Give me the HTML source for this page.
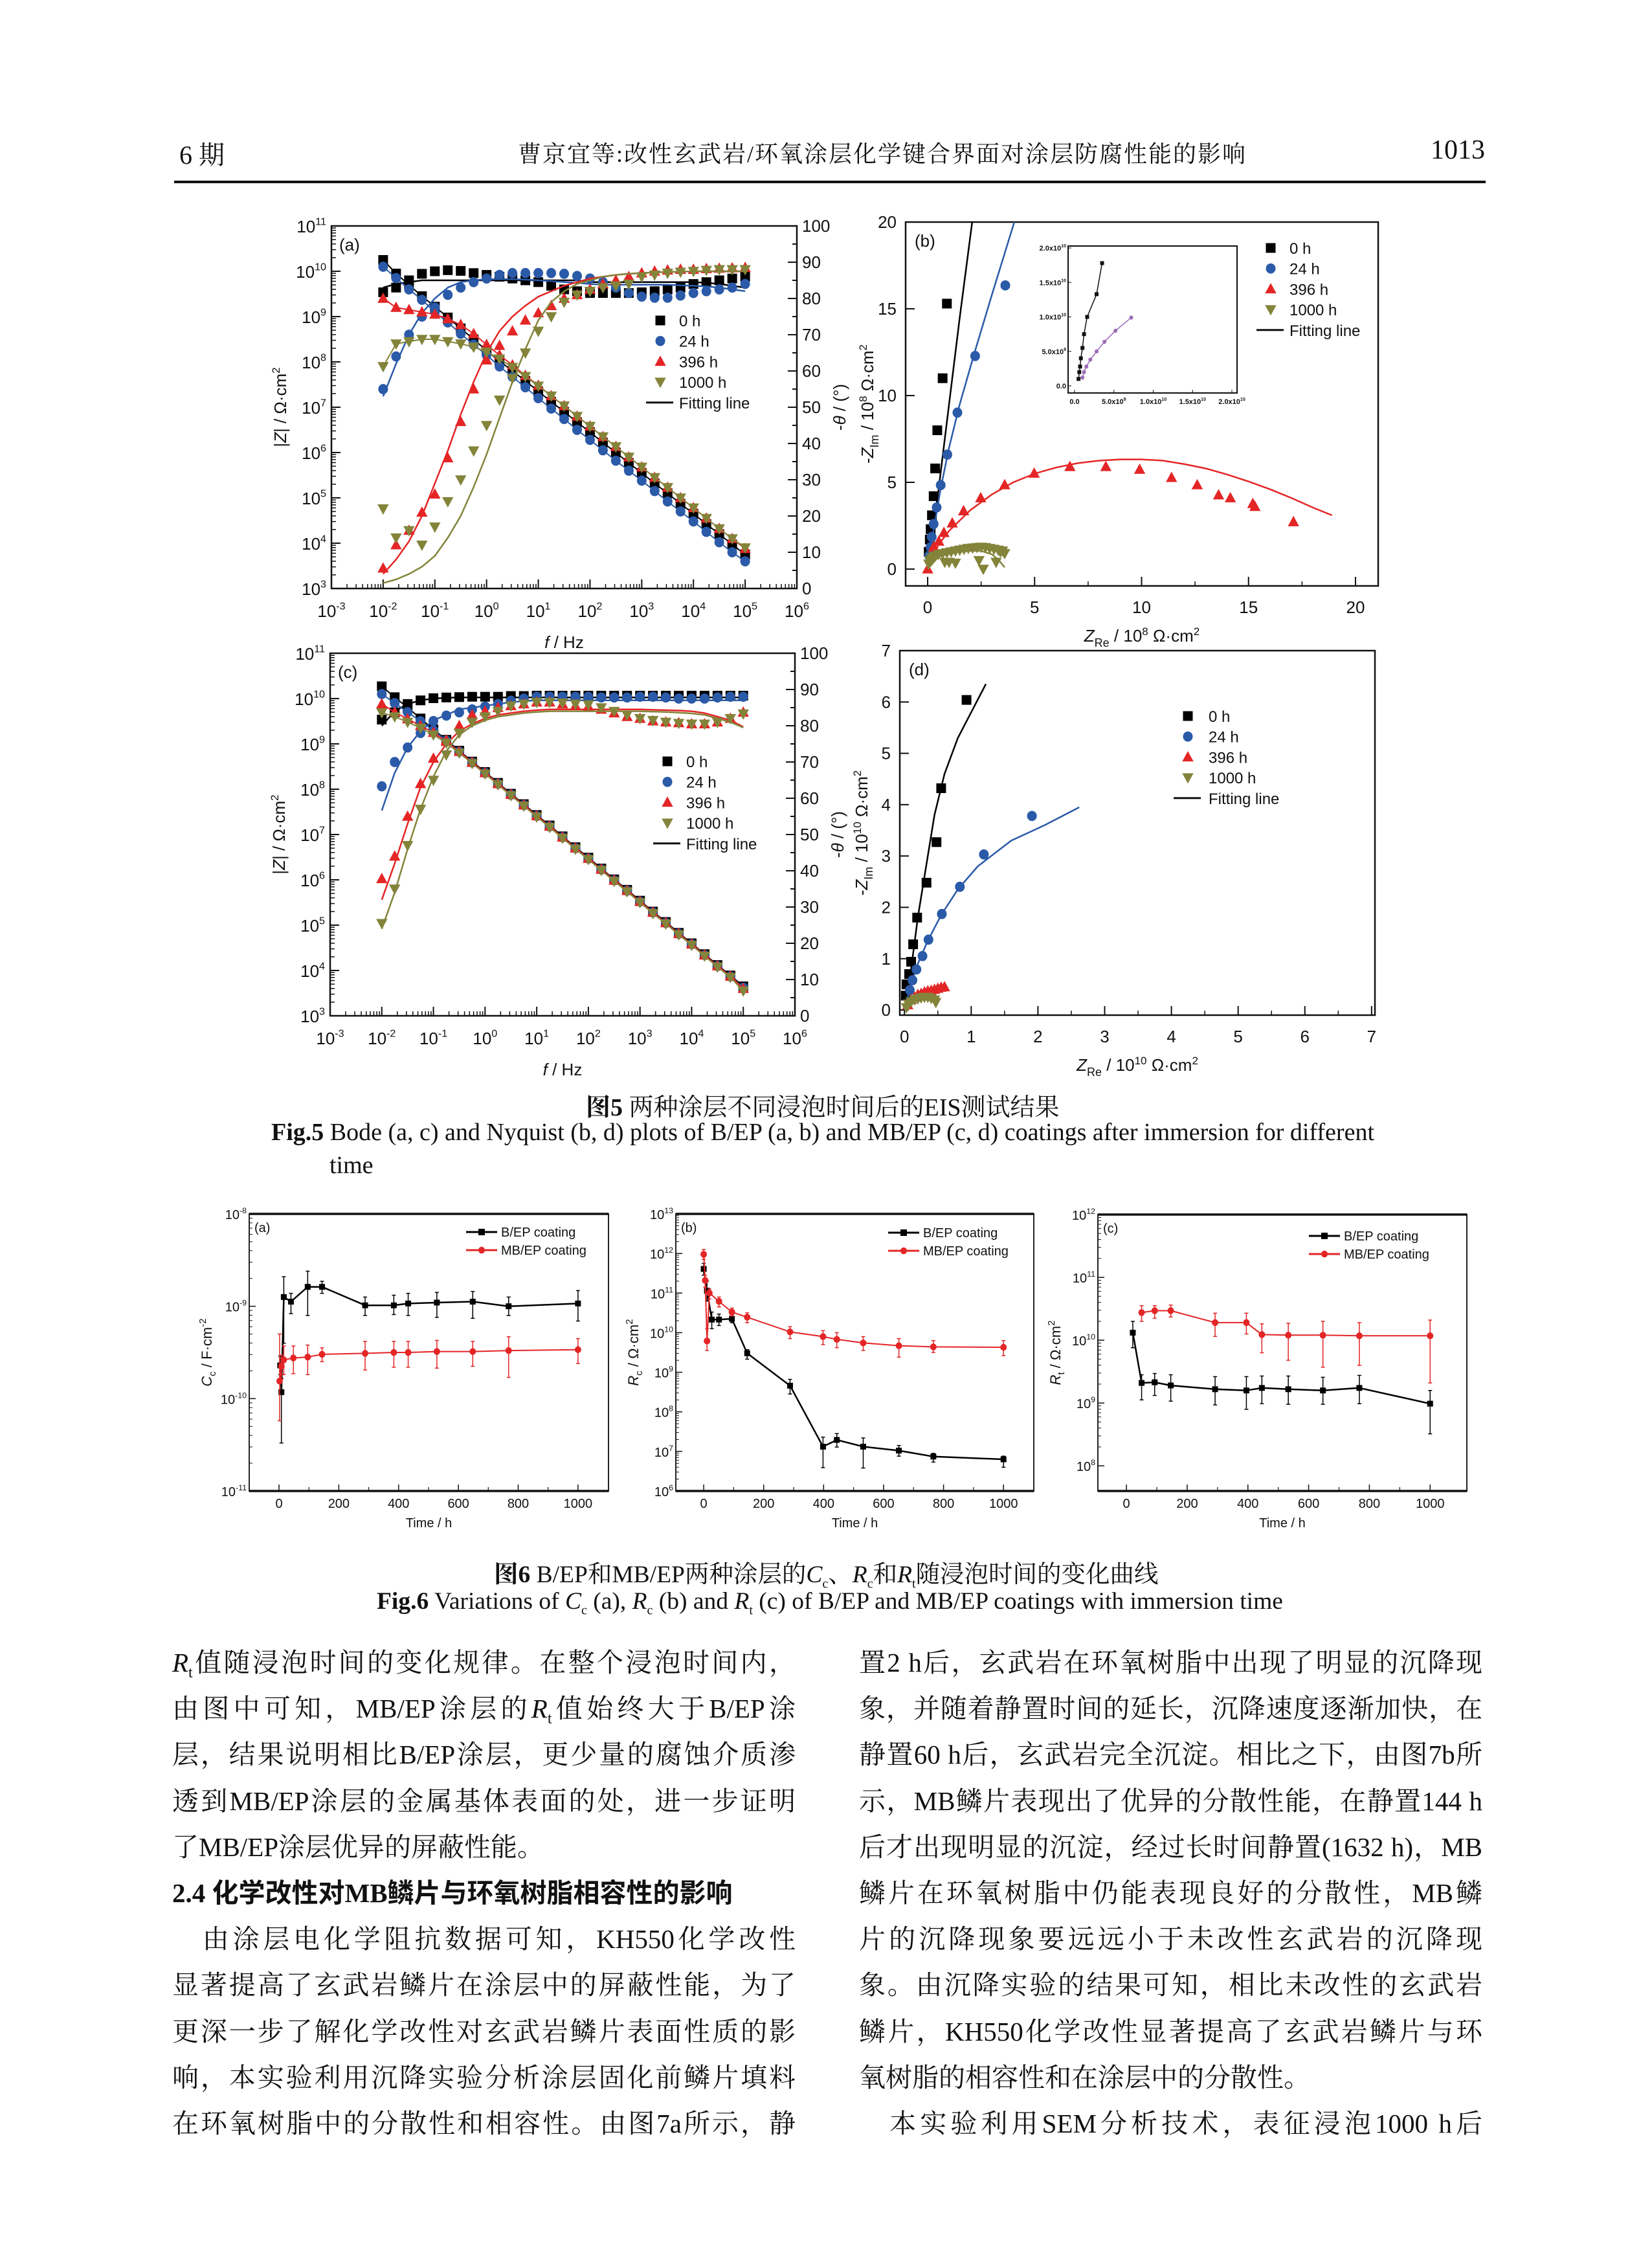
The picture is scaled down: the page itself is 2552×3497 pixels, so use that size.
<!DOCTYPE html>
<html><head><meta charset="utf-8">
<style>
html,body{margin:0;padding:0;background:#fff;}
body{width:2552px;height:3497px;position:relative;overflow:hidden;font-family:"Liberation Serif","Noto Serif CJK SC",serif;color:#111;}
.abs{position:absolute;white-space:nowrap;}
.line{position:absolute;width:963px;font-size:41px;line-height:50px;text-align:justify;text-align-last:justify;white-space:nowrap;overflow:visible;}
.short{text-align-last:left;}
svg text{font-family:"Liberation Sans","Noto Sans CJK SC",sans-serif;}
</style></head>
<body>
<div class="abs" style="left:277px;top:208px;font-size:40px;">6 期</div>
<div class="abs" style="left:800px;top:210px;font-size:36px;letter-spacing:2px;">曹京宜等:改性玄武岩/环氧涂层化学键合界面对涂层防腐性能的影响</div>
<div class="abs" style="left:2210px;top:208px;font-size:42px;">1013</div>
<div class="abs" style="left:269px;top:279px;width:2026px;height:4px;background:#111;"></div>

<svg id="chart" width="2552" height="2400" style="position:absolute;left:0;top:0;" xmlns="http://www.w3.org/2000/svg"></svg>

<div class="abs" style="left:905px;top:1679px;font-size:38px;"><b>图5</b> 两种涂层不同浸泡时间后的EIS测试结果</div>
<div class="abs" style="left:419px;top:1727px;font-size:38px;"><b>Fig.5</b> Bode (a, c) and Nyquist (b, d) plots of B/EP (a, b) and MB/EP (c, d) coatings after immersion for different</div>
<div class="abs" style="left:509px;top:1778px;font-size:38px;">time</div>
<div class="abs" style="left:763px;top:2401px;font-size:37.5px;"><b>图6</b> B/EP和MB/EP两种涂层的<i>C</i><sub style="font-size:20px">c</sub>、<i>R</i><sub style="font-size:20px">c</sub>和<i>R</i><sub style="font-size:20px">t</sub>随浸泡时间的变化曲线</div>
<div class="abs" style="left:582px;top:2452px;font-size:37.5px;"><b>Fig.6</b> Variations of <i>C</i><sub style="font-size:20px">c</sub> (a), <i>R</i><sub style="font-size:20px">c</sub> (b) and <i>R</i><sub style="font-size:20px">t</sub> (c) of B/EP and MB/EP coatings with immersion time</div>

<div>
<div class="line" style="left:266px;top:2543px;"><i>R</i><sub style="font-size:24px">t</sub>值随浸泡时间的变化规律。在整个浸泡时间内，</div>
<div class="line" style="left:266px;top:2614px;">由图中可知，MB/EP涂层的<i>R</i><sub style="font-size:24px">t</sub>值始终大于B/EP涂</div>
<div class="line" style="left:266px;top:2685px;">层，结果说明相比B/EP涂层，更少量的腐蚀介质渗</div>
<div class="line" style="left:266px;top:2757px;">透到MB/EP涂层的金属基体表面的处，进一步证明</div>
<div class="line short" style="left:266px;top:2828px;">了MB/EP涂层优异的屏蔽性能。</div>
<div class="line short" style="left:266px;top:2899px;font-weight:bold;font-family:'Liberation Serif','Noto Sans CJK SC',sans-serif;">2.4 化学改性对MB鳞片与环氧树脂相容性的影响</div>
<div class="line" style="left:266px;top:2970px;">&#12288;由涂层电化学阻抗数据可知，KH550化学改性</div>
<div class="line" style="left:266px;top:3041px;">显著提高了玄武岩鳞片在涂层中的屏蔽性能，为了</div>
<div class="line" style="left:266px;top:3113px;">更深一步了解化学改性对玄武岩鳞片表面性质的影</div>
<div class="line" style="left:266px;top:3184px;">响，本实验利用沉降实验分析涂层固化前鳞片填料</div>
<div class="line" style="left:266px;top:3255px;">在环氧树脂中的分散性和相容性。由图7a所示，静</div>
</div>
<div>
<div class="line" style="left:1327px;top:2543px;">置2 h后，玄武岩在环氧树脂中出现了明显的沉降现</div>
<div class="line" style="left:1327px;top:2614px;">象，并随着静置时间的延长，沉降速度逐渐加快，在</div>
<div class="line" style="left:1327px;top:2685px;">静置60 h后，玄武岩完全沉淀。相比之下，由图7b所</div>
<div class="line" style="left:1327px;top:2757px;">示，MB鳞片表现出了优异的分散性能，在静置144 h</div>
<div class="line" style="left:1327px;top:2828px;">后才出现明显的沉淀，经过长时间静置(1632 h)，MB</div>
<div class="line" style="left:1327px;top:2899px;">鳞片在环氧树脂中仍能表现良好的分散性，MB鳞</div>
<div class="line" style="left:1327px;top:2970px;">片的沉降现象要远远小于未改性玄武岩的沉降现</div>
<div class="line" style="left:1327px;top:3041px;">象。由沉降实验的结果可知，相比未改性的玄武岩</div>
<div class="line" style="left:1327px;top:3113px;">鳞片，KH550化学改性显著提高了玄武岩鳞片与环</div>
<div class="line short" style="left:1327px;top:3184px;">氧树脂的相容性和在涂层中的分散性。</div>
<div class="line" style="left:1327px;top:3255px;">&#12288;本实验利用SEM分析技术，表征浸泡1000 h后</div>
</div>

<script>
// ---------- DATA ----------
const logF = [-2,-1.75,-1.5,-1.25,-1,-0.75,-0.5,-0.25,0,0.25,0.5,0.75,1,1.25,1.5,1.75,2,2.25,2.5,2.75,3,3.25,3.5,3.75,4,4.25,4.5,4.75,5];
const zA0 = [10.25,9.95,9.7,9.45,9.22,8.98,8.74,8.5,8.25,8.02,7.8,7.58,7.35,7.12,6.9,6.67,6.45,6.22,6.0,5.77,5.55,5.32,5.1,4.87,4.65,4.42,4.2,3.97,3.75];
const zA24 = [10.1,9.85,9.6,9.37,9.1,8.87,8.62,8.38,8.15,7.9,7.67,7.44,7.2,6.97,6.74,6.5,6.28,6.05,5.82,5.6,5.38,5.15,4.92,4.7,4.48,4.25,4.02,3.8,3.6];
const zA396 = [9.4,9.2,9.15,9.1,9.05,8.95,8.82,8.62,8.38,8.15,7.93,7.7,7.48,7.25,7.03,6.8,6.58,6.35,6.13,5.9,5.68,5.45,5.23,5.0,4.78,4.55,4.32,4.1,3.88];
const zA1000 = [7.9,8.4,8.45,8.5,8.5,8.45,8.4,8.33,8.22,8.07,7.88,7.68,7.47,7.25,7.03,6.8,6.58,6.35,6.13,5.9,5.68,5.45,5.23,5.0,4.78,4.55,4.32,4.1,3.9];
const pA0 = [81.7,83,85,86.8,87.5,87.8,87.6,87,86.5,86,85.5,85,84.5,83.5,82.5,82,81.5,81.5,81.5,81.5,81.7,82,82.5,83,84,84.5,85,85.5,86];
const pA24 = [55,64,70,75,77.5,81,83,84.5,85.5,86.5,87,87,87,87,86.8,86.2,85.5,84.5,83,81.5,80.5,80.2,80.2,80.8,81.5,82,82.5,83,84];
const pA396 = [5.6,12,16,21,26,36,46,55,63,67,71,74,76,78,80,81,82.5,84,85,86,87,87.5,87.8,88,88,88.2,88.3,88.4,88.5];
const pA1000 = [22,14,16,12,17,24,30,38,45,52,58,65,71,75,79,81,82,83,83.5,84,86,86.5,87,87.3,87.5,87.8,88,88,88];
const fA0 = [83,84,84.5,85,85,85,85,85,85,85,85,85,85,85,85,85,84.5,84.5,84.5,84.5,84.5,84.5,84.5,84.5,84.5,84.3,84,83.5,83];
const fA24 = [53,62,70,76,80,83,84.5,85,85.3,85.3,85.3,85.2,85,84.8,84.5,84.3,84,83.8,83.8,83.8,83.8,83.8,83.8,83.6,83.5,83.3,83,82.5,82];
const fA396 = [4,8,13,20,29,38,48,57,65,71,75,78,80.5,82,83.5,84.5,85.5,86,86.5,86.8,87,87.2,87.3,87.4,87.5,87.5,87.5,87.5,87.5];
const fA1000 = [1.5,2.5,4,6,9,14,20,28,37,47,57,66,74,79,82,84,85,86,86.5,86.8,87,87.2,87.3,87.4,87.5,87.5,87.5,87.5,87.5];
const zC0 = [10.27,10.03,9.8,9.56,9.32,9.09,8.85,8.61,8.38,8.14,7.9,7.67,7.43,7.2,6.96,6.72,6.49,6.25,6.01,5.78,5.54,5.3,5.07,4.83,4.6,4.36,4.12,3.89,3.65];
const zC24 = [10.1,9.9,9.7,9.5,9.3,9.07,8.83,8.59,8.36,8.12,7.88,7.65,7.41,7.18,6.94,6.7,6.47,6.23,5.99,5.76,5.52,5.28,5.05,4.81,4.58,4.34,4.1,3.87,3.62];
const zC396 = [9.88,9.7,9.55,9.4,9.25,9.05,8.83,8.59,8.36,8.12,7.88,7.65,7.41,7.18,6.94,6.7,6.47,6.23,5.99,5.76,5.52,5.28,5.05,4.81,4.58,4.34,4.1,3.87,3.6];
const zC1000 = [9.69,9.6,9.48,9.35,9.2,9.02,8.8,8.57,8.34,8.1,7.86,7.63,7.39,7.16,6.92,6.68,6.45,6.21,5.97,5.74,5.5,5.26,5.03,4.79,4.56,4.32,4.08,3.85,3.55];
const pC0 = [81.7,83.7,86,87,87.6,87.8,87.9,88,88,88,88.2,88.2,88.3,88.3,88.3,88.3,88.3,88.3,88.3,88.3,88.3,88.3,88.3,88.3,88.3,88.3,88.3,88.3,88.3];
const pC24 = [63.3,70,74,78,81.3,82.8,83.7,84.5,85.3,86,86.9,87.5,88,88,88,88,88,87.8,87.8,87.8,88,88,87.8,87.5,87.5,87.5,87.8,88,88];
const pC396 = [37.8,44,55,64,71,76,80,83,84,85,85.5,86,86.5,86.5,86,85.5,85.3,84.5,83.5,82.5,82,81.3,81,80.8,80.5,80.5,81,82,83.7];
const pC1000 = [25.5,35,47,57,65,72,78,81,82.5,84,85.5,86,86.5,86.5,86.3,86,85.8,85,84,83,82,81.5,81,80.7,80.5,80.5,81,82,83.3];
const fC0 = [80,84,86,87,87.5,87.7,87.8,87.8,87.8,87.8,87.8,87.8,87.8,87.8,87.8,87.8,87.8,87.8,87.8,87.8,87.8,87.8,87.8,87.8,87.8,87.8,87.8,87.8,87.8];
const fC24 = [56.6,67,74,78.5,81.5,83,84.5,85,85.5,86,86.5,86.8,87,87,87,87,87,87,87,87,87,87,87,87,87,87,87,87,87];
const fC396 = [32,42,53,63,70,75,78.5,80.5,82,83,83.5,84,84.3,84.5,84.5,84.5,84.5,84.5,84.5,84.5,84.5,84.4,84.3,84.2,84,83.5,82.5,81.5,79.7];
const fC1000 = [24,34,46,57,66,73,77.5,80,81.5,82.5,83,83.5,83.8,84,84,84,84,84,84,84,84,83.9,83.8,83.6,83.4,83,82,81,79.5];
const nB0x = [0.05,0.1,0.14,0.2,0.28,0.35,0.45,0.7,0.9];
const nB0y = [1.0,1.7,2.3,3.1,4.2,5.8,8.0,11,15.3];
const nB0fx = [0,0.5,1.0,1.5,2.08];
const nB0fy = [0,4.5,9.5,14.5,20];
const nB24x = [0.07,0.14,0.19,0.28,0.42,0.61,0.92,1.39,2.22,3.63];
const nB24y = [0.77,1.27,1.85,2.6,3.55,4.84,6.6,9.02,12.28,16.35];
const nB24fx = [0,0.3,0.6,1.0,1.5,2.2,3.0,4.05];
const nB24fy = [0,2.4,4.6,7.0,9.5,12.5,15.8,20];
const nB396x = [0,0.28,0.52,0.76,1.15,1.68,2.48,3.6,4.98,6.65,8.33,9.91,11.4,12.6,13.6,14.15,15.2,15.3,17.1];
const nB396y = [0,1.27,1.6,2.1,2.65,3.35,4.1,4.85,5.52,5.9,5.9,5.74,5.27,4.85,4.27,4.1,3.77,3.6,2.72];
const nB396fx = [0,0.5,1,2,3,4,5,6,7,8,9,10,11,12,13,14,15,16,17,18,18.9];
const nB396fy = [0,1.4,2.2,3.4,4.3,5.0,5.5,5.85,6.1,6.25,6.32,6.32,6.25,6.05,5.8,5.45,5.05,4.6,4.1,3.55,3.1];
const nB1000x = [0.05,0.1,0.2,0.3,0.5,0.7,0.9,1.1,1.3,1.5,1.7,1.9,2.1,2.3,2.5,2.7,2.9,3.1,3.3,3.5,3.6,2.4,2.6,3.2,1.0,1.3,0.8,3.4];
const nB1000y = [0.3,0.5,0.65,0.75,0.85,0.9,0.95,1.0,1.05,1.1,1.15,1.2,1.22,1.25,1.27,1.25,1.2,1.15,1.1,1.05,0.9,0.5,0.0,0.4,0.4,0.35,0.4,1.0];
const nB1000fx = [0,0.5,1,1.5,2,2.5,3,3.3,3.6];
const nB1000fy = [0,0.7,0.9,1.0,1.05,1.05,0.85,0.55,0.1];
const inBx = [0.05,0.06,0.07,0.08,0.1,0.12,0.16,0.28,0.35];
const inBy = [0.1,0.2,0.28,0.4,0.55,0.75,1.0,1.33,1.78];
const inPx = [0.1,0.12,0.15,0.2,0.28,0.38,0.52,0.72];
const inPy = [0.12,0.2,0.28,0.38,0.5,0.64,0.8,0.99];
const nD0x = [0.02,0.03,0.07,0.1,0.13,0.19,0.33,0.48,0.55,0.93];
const nD0y = [0.28,0.5,0.7,0.94,1.28,1.8,2.48,3.27,4.32,6.04];
const nD0fx = [0,0.1,0.2,0.3,0.45,0.6,0.8,1.0,1.22];
const nD0fy = [0,0.8,1.8,2.6,3.8,4.6,5.3,5.8,6.35];
const nD24x = [0.08,0.12,0.18,0.27,0.36,0.56,0.83,1.19,1.91];
const nD24y = [0.39,0.58,0.79,1.05,1.37,1.87,2.4,3.03,3.78];
const nD24fx = [0,0.1,0.2,0.35,0.55,0.8,1.1,1.6,2.1,2.62];
const nD24fy = [0,0.5,0.9,1.35,1.85,2.35,2.8,3.3,3.6,3.95];
const nD396x = [0.05,0.1,0.15,0.2,0.25,0.3,0.35,0.4,0.45,0.5,0.55,0.6];
const nD396y = [0.1,0.2,0.25,0.3,0.32,0.35,0.37,0.38,0.4,0.42,0.44,0.45];
const nD1000x = [0.03,0.06,0.1,0.15,0.2,0.25,0.3,0.35,0.4,0.45,0.47];
const nD1000y = [0.05,0.12,0.16,0.2,0.22,0.24,0.25,0.25,0.23,0.2,0.15];
const ccBt = [4,8,16,40,96,144,288,384,432,528,648,768,1000];
const ccBv = [-9.64,-9.93,-8.90,-8.95,-8.79,-8.79,-8.99,-8.99,-8.97,-8.96,-8.95,-9.00,-8.97];
const ccBhi = [-9.54,-9.78,-8.68,-8.86,-8.62,-8.73,-8.90,-8.88,-8.86,-8.85,-8.84,-8.90,-8.83];
const ccBlo = [-9.74,-10.48,-9.40,-9.08,-9.10,-8.86,-9.10,-9.09,-9.10,-9.12,-9.13,-9.10,-9.16];
const ccMt = [2,8,16,48,96,144,288,384,432,528,648,768,1000];
const ccMv = [-9.81,-9.65,-9.58,-9.56,-9.55,-9.52,-9.51,-9.50,-9.50,-9.49,-9.49,-9.48,-9.47];
const ccMhi = [-9.30,-9.53,-9.43,-9.43,-9.42,-9.45,-9.38,-9.38,-9.38,-9.37,-9.38,-9.33,-9.35];
const ccMlo = [-10.24,-9.79,-9.74,-9.73,-9.74,-9.60,-9.69,-9.66,-9.66,-9.67,-9.65,-9.77,-9.62];
const rcBt = [0,11,27,51,94,145,288,398,444,532,651,766,1000];
const rcBv = [11.61,11.06,10.33,10.33,10.35,9.48,8.66,7.12,7.29,7.12,7.02,6.87,6.80];
const rcBhi = [11.75,11.30,10.52,10.47,10.45,9.57,8.82,7.36,7.45,7.34,7.15,6.95,6.88];
const rcBlo = [11.45,10.80,10.10,10.18,10.25,9.33,8.45,6.59,7.11,6.58,6.88,6.73,6.60];
const rcMt = [0,5,11,19,51,94,145,288,398,444,532,651,766,1000];
const rcMv = [11.98,11.32,9.79,11.0,10.79,10.52,10.39,10.02,9.9,9.83,9.74,9.67,9.64,9.63];
const rcMhi = [12.1,11.45,10.1,11.1,10.9,10.62,10.5,10.15,10.05,10.0,9.9,9.85,9.8,9.8];
const rcMlo = [11.85,11.15,9.55,10.85,10.65,10.42,10.25,9.85,9.7,9.62,9.55,9.38,9.5,9.42];
const rtBt = [21,50,93,146,292,395,446,533,647,767,1000];
const rtBv = [10.12,9.32,9.33,9.28,9.22,9.20,9.24,9.22,9.20,9.24,8.99];
const rtBhi = [10.3,9.45,9.47,9.45,9.42,9.42,9.43,9.43,9.41,9.44,9.2];
const rtBlo = [9.88,9.05,9.12,9.03,8.97,8.9,8.99,8.98,8.98,8.99,8.51];
const rtMt = [50,93,146,292,395,446,533,647,767,1000];
const rtMv = [10.44,10.47,10.47,10.28,10.28,10.09,10.08,10.08,10.07,10.07];
const rtMhi = [10.55,10.55,10.56,10.43,10.43,10.26,10.27,10.3,10.28,10.32];
const rtMlo = [10.3,10.35,10.37,10.06,10.1,9.8,9.68,9.57,9.6,9.32];
const timeTicks = [0,200,400,600,800,1000];
const legendLabels = ['0 h','24 h','396 h','1000 h'];

// ---------- HELPERS ----------
const NS='http://www.w3.org/2000/svg';
const svg=document.getElementById('chart');
const BLACK='#000', BLUE='#2a5aa8', RED='#e42526', OLIVE='#83843a', PURPLE='#9b6bb8';
function mk(tag, attrs, parent){const e=document.createElementNS(NS,tag);for(const k in attrs)e.setAttribute(k,attrs[k]);(parent||svg).appendChild(e);return e;}
function grp(){return mk('g',{});}
function marker(g,shape,x,y,s,color){
  let e;
  if(shape==='sq') e=mk('rect',{x:x-s/2,y:y-s/2,width:s,height:s,fill:color},g);
  else if(shape==='ci') e=mk('ellipse',{cx:x,cy:y,rx:s/2,ry:s/2*1.05,fill:color},g);
  else if(shape==='tu') e=mk('polygon',{points:`${x},${y-s*0.62} ${x-s*0.58},${y+s*0.45} ${x+s*0.58},${y+s*0.45}`,fill:color},g);
  else e=mk('polygon',{points:`${x},${y+s*0.62} ${x-s*0.58},${y-s*0.45} ${x+s*0.58},${y-s*0.45}`,fill:color},g);
  return e;
}
function poly(g,pts,color,w){return mk('polyline',{points:pts.map(p=>p[0].toFixed(1)+','+p[1].toFixed(1)).join(' '),fill:'none',stroke:color,'stroke-width':w,'stroke-linejoin':'round'},g);}
function text(g,x,y,html,size,anchor,extra){const t=mk('text',Object.assign({x:x,y:y,'font-size':size,'text-anchor':anchor||'start',fill:'#111'},extra||{}),g);t.innerHTML=html;return t;}
function pow(e,s){return '10<tspan dy="-'+(s*0.45)+'" font-size="'+(s*0.62)+'">'+e+'</tspan>';}

function bode(P){
  const g=grp();
  
  
  const fx=v=>P.x0+(v+3)/9*(P.x1-P.x0);
  const fz=v=>P.y1-(v-3)/8*(P.y1-P.y0);
  const fp=v=>P.y1-v/100*(P.y1-P.y0);
  const fr=mk('rect',{x:P.x0,y:P.y0,width:P.x1-P.x0,height:P.y1-P.y0,fill:'none',stroke:'#111','stroke-width':2.5},g);
  
  
  const ax=grp(); g.appendChild(ax);
  
  
  for(let d=-3;d<=6;d++){
    const x=fx(d); mk('line',{x1:x,x2:x,y1:P.y1,y2:P.y1-14,stroke:'#111','stroke-width':2},ax);
    const lb=text(ax,x,P.y1+44,pow(d,26),26,'middle');
    
    
    if(d<6) for(let m=2;m<10;m++){const xm=fx(d+Math.log10(m));mk('line',{x1:xm,x2:xm,y1:P.y1,y2:P.y1-7,stroke:'#111','stroke-width':1.5},ax);}
  }
  for(let d=3;d<=11;d++){
    const y=fz(d); mk('line',{x1:P.x0,x2:P.x0+14,y1:y,y2:y,stroke:'#111','stroke-width':2},ax);
    const lb=text(ax,P.x0-8,y+10,pow(d,26),26,'end');
    
    
    if(d<11) for(let m=2;m<10;m++){const ym=fz(d+Math.log10(m));mk('line',{x1:P.x0,x2:P.x0+7,y1:ym,y2:ym,stroke:'#111','stroke-width':1.5},ax);}
  }
  for(let v=0;v<=100;v+=5){
    const y=fp(v); mk('line',{x1:P.x1,x2:P.x1-(v%10?7:14),y1:y,y2:y,stroke:'#111','stroke-width':2},ax);
    if(v%10===0){const lb=text(ax,P.x1+8,y+9,String(v),26,'start');
      
      }
  }
  const pl=text(g,P.x0+12,P.y0+38,'('+P.letter+')',26,'start');
  
  
  const xt=text(g,(P.x0+P.x1)/2,P.y1+92,'<tspan font-style="italic">f</tspan> / Hz',26,'middle');
  
  
  const cy=(P.y0+P.y1)/2;
  const yt=text(g,0,0,'|<tspan font-style="italic">Z</tspan>| / Ω·cm<tspan dy="-10" font-size="17">2</tspan>',26,'middle',{transform:`translate(${P.x0-70},${cy}) rotate(-90)`});
  
  
  const y2=text(g,0,0,'-<tspan font-style="italic">θ</tspan> / (°)',26,'middle',{transform:`translate(${P.x1+75},${cy}) rotate(-90)`});
  
  
  P.series.forEach(s=>{
    const sg=grp(); g.appendChild(sg);
    
    
    const ln=poly(sg,logF.map((v,i)=>[fx(v),fp(s.fit[i])]),s.color,2.5);
    
    
    const lz=poly(sg,logF.map((v,i)=>[fx(v),fz(s.z[i])]),s.color,2);
    
    
    logF.forEach((v,i)=>{
      const m1=marker(sg,s.shape,fx(v),fz(s.z[i]),15,s.color);
      
      
      const m2=marker(sg,s.shape,fx(v),fp(s.ph[i]),15,s.color);
      
      
    });
  });
  legend(g,P.lx,P.ly,P.ltx,P.series,31.7,24);
}
function legend(g,x,y,tx,series,step,size){
  const lg=grp(); g.appendChild(lg);
  
  
  series.forEach((s,i)=>{
    const m=marker(lg,s.shape,x,y+i*step,15,s.color);
    
    
    const t=text(lg,tx,y+i*step+9,legendLabels[i],size,'start');
    
    
  });
  const yy=y+4*step;
  const l=mk('line',{x1:x-22,x2:x+20,y1:yy,y2:yy,stroke:'#111','stroke-width':3},lg);
  
  
  const t=text(lg,tx,yy+9,'Fitting line',size,'start');
  
  
}

function nyq(P){
  const g=grp();
  
  
  const fx=v=>P.x0+(v-P.xmin)/(P.xmax-P.xmin)*(P.x1-P.x0);
  const fy=v=>P.y1-(v-P.ymin)/(P.ymax-P.ymin)*(P.y1-P.y0);
  const fr=mk('rect',{x:P.x0,y:P.y0,width:P.x1-P.x0,height:P.y1-P.y0,fill:'none',stroke:'#111','stroke-width':2.5},g);
  
  
  P.xticks.forEach(v=>{
    const x=fx(v);mk('line',{x1:x,x2:x,y1:P.y1,y2:P.y1-14,stroke:'#111','stroke-width':2},g);
    const lb=text(g,x,P.y1+42,String(v),26,'middle');
    
    
    const xm=fx(v+P.xminor); if(xm<P.x1) mk('line',{x1:xm,x2:xm,y1:P.y1,y2:P.y1-7,stroke:'#111','stroke-width':1.5},g);
  });
  P.yticks.forEach(v=>{
    const y=fy(v);mk('line',{x1:P.x0,x2:P.x0+14,y1:y,y2:y,stroke:'#111','stroke-width':2},g);
    const lb=text(g,P.x0-14,y+9,String(v),26,'end');
    
    
  });
  const pl=text(g,P.x0+14,P.y0+38,'('+P.letter+')',26,'start');
  
  
  const xt=text(g,(P.x0+P.x1)/2,P.y1+86,'<tspan font-style="italic">Z</tspan><tspan dy="8" font-size="18">Re</tspan><tspan dy="-8"> / 10</tspan><tspan dy="-10" font-size="17">'+P.exp+'</tspan><tspan dy="10"> Ω·cm</tspan><tspan dy="-10" font-size="17">2</tspan>',26,'middle');
  
  
  const yt=text(g,0,0,'-<tspan font-style="italic">Z</tspan><tspan dy="8" font-size="18">Im</tspan><tspan dy="-8"> / 10</tspan><tspan dy="-10" font-size="17">'+P.exp+'</tspan><tspan dy="10"> Ω·cm</tspan><tspan dy="-10" font-size="17">2</tspan>',26,'middle',{transform:`translate(${P.x0-50},${(P.y0+P.y1)/2}) rotate(-90)`});
  
  
  P.series.forEach(s=>{
    const sg=grp(); g.appendChild(sg);
    
    
    if(s.fx){const ln=poly(sg,s.fx.map((v,i)=>[fx(v),fy(s.fy[i])]),s.color,2.5);
      
      }
    s.x.forEach((v,i)=>{
      const m=marker(sg,s.shape,fx(v),fy(s.y[i]),15,s.color);
      
      
    });
  });
  legend(g,P.lx,P.ly,P.ltx,P.series,31.7,24);
}

function trend(P){
  const g=grp();
  
  
  const fx=t=>P.x0+(t-P.tmin)/(P.tmax-P.tmin)*(P.x1-P.x0);
  const fy=v=>P.y1-(v-P.ymin)/(P.ymax-P.ymin)*(P.y1-P.y0);
  const fr=mk('rect',{x:P.x0,y:P.y0,width:P.x1-P.x0,height:P.y1-P.y0,fill:'none',stroke:'#222','stroke-width':2},g);
  
  
  mk('line',{x1:P.x0,x2:P.x1,y1:P.y0,y2:P.y0,stroke:'#111','stroke-width':3.5},g);
  mk('line',{x1:P.x0,x2:P.x1,y1:P.y1,y2:P.y1,stroke:'#111','stroke-width':3.5},g);
  timeTicks.forEach(t=>{
    const x=fx(t);mk('line',{x1:x,x2:x,y1:P.y1,y2:P.y1-10,stroke:'#111','stroke-width':1.5},g);
    const xm=fx(t+100); if(t<1000) mk('line',{x1:xm,x2:xm,y1:P.y1,y2:P.y1-6,stroke:'#111','stroke-width':1.2},g);
    const lb=text(g,x,P.y1+26,String(t),20,'middle');
    
    
  });
  for(let d=Math.ceil(P.ymin);d<=P.ymax;d++){
    const y=fy(d);mk('line',{x1:P.x0,x2:P.x0+10,y1:y,y2:y,stroke:'#111','stroke-width':1.5},g);
    const lb=text(g,P.x0-4,y+8,pow(d,20),20,'end');
    
    
    for(let m=2;m<10;m++){const v=d+Math.log10(m); if(v<P.ymax) {const ym=fy(v);mk('line',{x1:P.x0,x2:P.x0+5,y1:ym,y2:ym,stroke:'#111','stroke-width':1},g);}}
  }
  const pl=text(g,P.x0+8,P.y0+28,'('+P.letter+')',20,'start');
  
  
  const xt=text(g,(P.x0+P.x1)/2,P.y1+56,'Time / h',20,'middle');
  
  
  const yt=text(g,0,0,P.ytitle,22,'middle',{transform:`translate(${P.x0-58},${(P.y0+P.y1)/2}) rotate(-90)`});
  
  
  P.series.forEach((s,k)=>{
    const sg=grp(); g.appendChild(sg);
    
    
    s.t.forEach((t,i)=>{
      const x=fx(t);
      const eb=mk('line',{x1:x,x2:x,y1:fy(s.hi[i]),y2:fy(s.lo[i]),stroke:s.color,'stroke-width':1.5},sg);
      
      
      mk('line',{x1:x-3,x2:x+3,y1:fy(s.hi[i]),y2:fy(s.hi[i]),stroke:s.color,'stroke-width':1.5},sg);
      mk('line',{x1:x-3,x2:x+3,y1:fy(s.lo[i]),y2:fy(s.lo[i]),stroke:s.color,'stroke-width':1.5},sg);
    });
    const ln=poly(sg,s.t.map((t,i)=>[fx(t),fy(s.v[i])]),s.color,s.shape==='sq'?2.5:2);
    
    
    s.t.forEach((t,i)=>{
      const m=marker(sg,s.shape,fx(t),fy(s.v[i]),s.shape==='sq'?9:10,s.color);
      
      
    });
    const ly=P.ly+k*28;
    const ll=mk('line',{x1:P.lx,x2:P.lx+48,y1:ly,y2:ly,stroke:s.color,'stroke-width':3},sg);
    
    
    marker(sg,s.shape,P.lx+24,ly,10,s.color);
    const lt=text(sg,P.lx+54,ly+7,s.label,20,'start');
    
    
  });
}

bode({name:'bode-plot-a',letter:'a',x0:512,x1:1231,y0:349,y1:909,lx:1020,ly:495,ltx:1049,series:[
 {name:'0h',z:zA0,ph:pA0,fit:fA0,color:BLACK,shape:'sq'},
 {name:'24h',z:zA24,ph:pA24,fit:fA24,color:BLUE,shape:'ci'},
 {name:'396h',z:zA396,ph:pA396,fit:fA396,color:RED,shape:'tu'},
 {name:'1000h',z:zA1000,ph:pA1000,fit:fA1000,color:OLIVE,shape:'td'}]});
bode({name:'bode-plot-c',letter:'c',x0:510,x1:1228,y0:1009,y1:1569,lx:1031,ly:1176,ltx:1060,series:[
 {name:'0h',z:zC0,ph:pC0,fit:fC0,color:BLACK,shape:'sq'},
 {name:'24h',z:zC24,ph:pC24,fit:fC24,color:BLUE,shape:'ci'},
 {name:'396h',z:zC396,ph:pC396,fit:fC396,color:RED,shape:'tu'},
 {name:'1000h',z:zC1000,ph:pC1000,fit:fC1000,color:OLIVE,shape:'td'}]});
nyq({name:'nyquist-plot-b',letter:'b',exp:8,x0:1399,x1:2129,y0:343,y1:905,xmin:-1.03,xmax:21.06,ymin:-0.97,ymax:20,
 xticks:[0,5,10,15,20],xminor:2.5,yticks:[0,5,10,15,20],lx:1963,ly:383,ltx:1992,series:[
 {name:'0h',x:nB0x,y:nB0y,fx:nB0fx,fy:nB0fy,color:BLACK,shape:'sq'},
 {name:'24h',x:nB24x,y:nB24y,fx:nB24fx,fy:nB24fy,color:BLUE,shape:'ci'},
 {name:'396h',x:nB396x,y:nB396y,fx:nB396fx,fy:nB396fy,color:RED,shape:'tu'},
 {name:'1000h',x:nB1000x,y:nB1000y,fx:nB1000fx,fy:nB1000fy,color:OLIVE,shape:'td'}]});
nyq({name:'nyquist-plot-d',letter:'d',exp:10,x0:1390,x1:2124,y0:1005,y1:1568,xmin:-0.07,xmax:7.05,ymin:-0.1,ymax:7,
 xticks:[0,1,2,3,4,5,6,7],xminor:0.5,yticks:[0,1,2,3,4,5,6,7],lx:1835,ly:1106,ltx:1867,series:[
 {name:'0h',x:nD0x,y:nD0y,fx:nD0fx,fy:nD0fy,color:BLACK,shape:'sq'},
 {name:'24h',x:nD24x,y:nD24y,fx:nD24fx,fy:nD24fy,color:BLUE,shape:'ci'},
 {name:'396h',x:nD396x,y:nD396y,color:RED,shape:'tu'},
 {name:'1000h',x:nD1000x,y:nD1000y,color:OLIVE,shape:'td'}]});

(function(){
  const g=grp();
  
  
  const X0=1650,X1=1911,Y0=380,Y1=607;
  const fx=v=>1660+v/2*(1903-1660), fy=v=>596-v/2*(596-383);
  const bg=mk('rect',{x:X0,y:Y0,width:X1-X0,height:Y1-Y0,fill:'#fff',stroke:'#111','stroke-width':2},g);
  
  
  [0,0.5,1.0,1.5,2.0].forEach((v,i)=>{
    const lbl=['0.0','5.0x10<tspan dy="-5" font-size="7">9</tspan>','1.0x10<tspan dy="-5" font-size="7">10</tspan>','1.5x10<tspan dy="-5" font-size="7">10</tspan>','2.0x10<tspan dy="-5" font-size="7">10</tspan>'][i];
    const t1=text(g,fx(v),Y1+17,lbl,11,'middle',{'font-family':'Liberation Serif','font-weight':'bold'});
    
    
    const t2=text(g,X0-3,fy(v)+4,lbl,11,'end',{'font-family':'Liberation Serif','font-weight':'bold'});
    
    
    mk('line',{x1:fx(v),x2:fx(v),y1:Y1,y2:Y1-5,stroke:'#111','stroke-width':1},g);
    mk('line',{x1:X0,x2:X0+5,y1:fy(v),y2:fy(v),stroke:'#111','stroke-width':1},g);
  });
  const l1=poly(g,inBx.map((v,i)=>[fx(v),fy(inBy[i])]),'#111',1.5);
  
  
  const l2=poly(g,inPx.map((v,i)=>[fx(v),fy(inPy[i])]),PURPLE,1.5);
  
  
  inBx.forEach((v,i)=>{const m=marker(g,'sq',fx(v),fy(inBy[i]),6,'#111');
    
    });
  inPx.forEach((v,i)=>{const m=marker(g,'ci',fx(v),fy(inPy[i]),6,PURPLE);
    
    });
})();

trend({name:'cc-plot-a',letter:'a',x0:385,x1:940,y0:1875,y1:2303,tmin:-99.6,tmax:1102,ymin:-11,ymax:-8,lx:720,ly:1903,
 ytitle:'<tspan font-style="italic">C</tspan><tspan dy="6" font-size="15">c</tspan><tspan dy="-6"> / F·cm</tspan><tspan dy="-9" font-size="15">-2</tspan>',series:[
 {name:'bep',label:'B/EP coating',t:ccBt,v:ccBv,hi:ccBhi,lo:ccBlo,color:BLACK,shape:'sq'},
 {name:'mbep',label:'MB/EP coating',t:ccMt,v:ccMv,hi:ccMhi,lo:ccMlo,color:RED,shape:'ci'}]});
trend({name:'rc-plot-b',letter:'b',x0:1044,x1:1597,y0:1875,y1:2303,tmin:-93,tmax:1101,ymin:6,ymax:13,lx:1372,ly:1904,
 ytitle:'<tspan font-style="italic">R</tspan><tspan dy="6" font-size="15">c</tspan><tspan dy="-6"> / Ω·cm</tspan><tspan dy="-9" font-size="15">2</tspan>',series:[
 {name:'bep',label:'B/EP coating',t:rcBt,v:rcBv,hi:rcBhi,lo:rcBlo,color:BLACK,shape:'sq'},
 {name:'mbep',label:'MB/EP coating',t:rcMt,v:rcMv,hi:rcMhi,lo:rcMlo,color:RED,shape:'ci'}]});
trend({name:'rt-plot-c',letter:'c',x0:1696,x1:2266,y0:1876,y1:2303,tmin:-94,tmax:1121,ymin:7.6,ymax:12,lx:2022,ly:1909,
 ytitle:'<tspan font-style="italic">R</tspan><tspan dy="6" font-size="15">t</tspan><tspan dy="-6"> / Ω·cm</tspan><tspan dy="-9" font-size="15">2</tspan>',series:[
 {name:'bep',label:'B/EP coating',t:rtBt,v:rtBv,hi:rtBhi,lo:rtBlo,color:BLACK,shape:'sq'},
 {name:'mbep',label:'MB/EP coating',t:rtMt,v:rtMv,hi:rtMhi,lo:rtMlo,color:RED,shape:'ci'}]});
</script>
</body></html>
